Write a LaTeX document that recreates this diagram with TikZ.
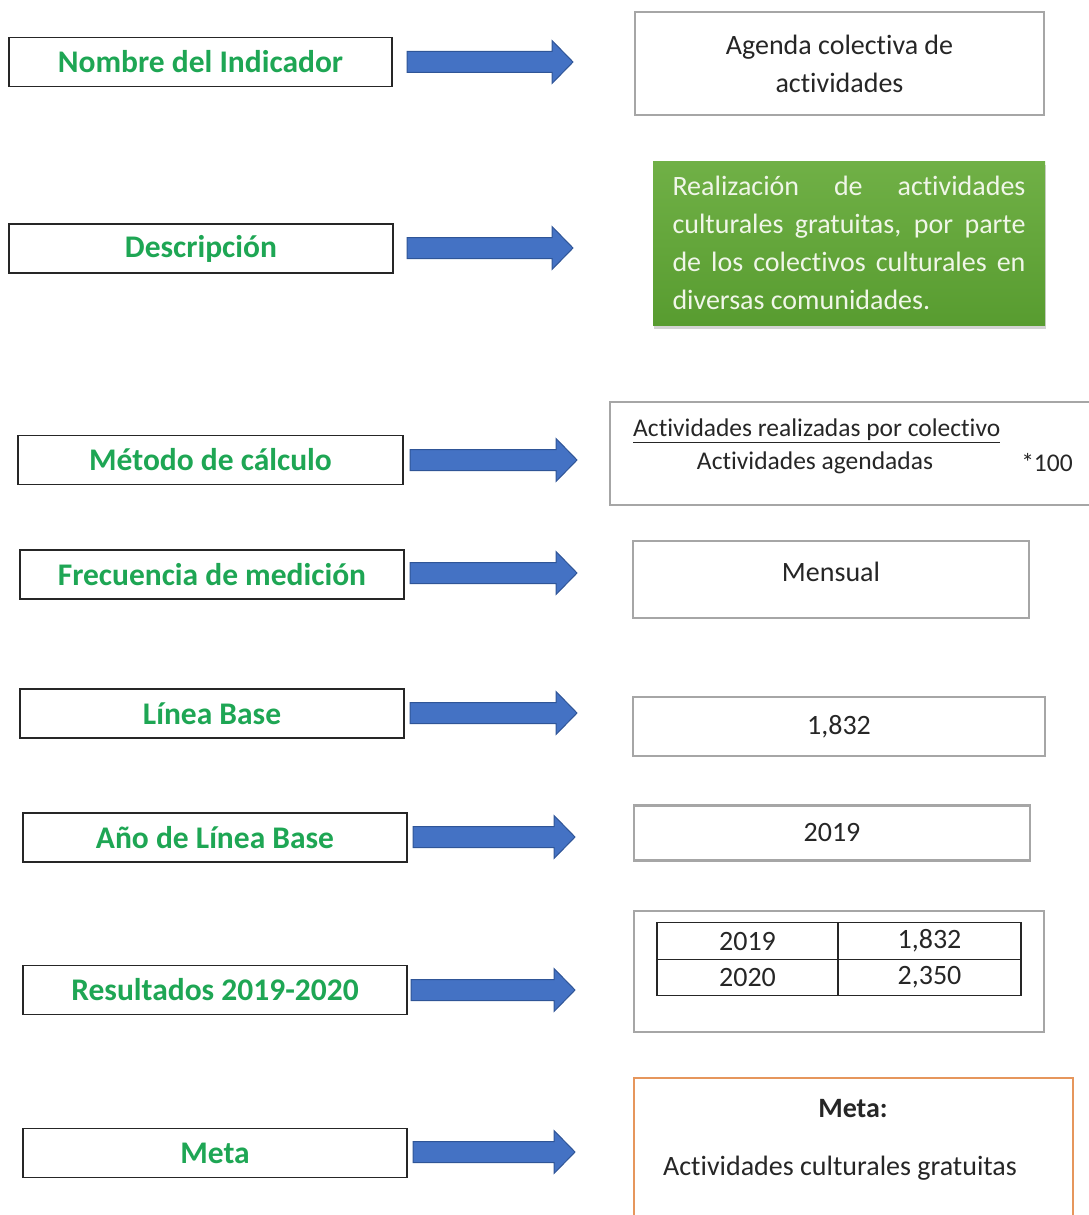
\documentclass[tikz,border=0pt]{standalone}
\usepackage{fontspec}
\setmainfont{Carlito}[Ligatures=NoCommon]
\usetikzlibrary{calc,shadows}
\definecolor{lblgreen}{RGB}{30,166,84}
\definecolor{arrblue}{RGB}{68,114,196}
\definecolor{arredge}{RGB}{47,85,151}
\definecolor{boxgray}{RGB}{166,166,166}
\definecolor{descgreen}{RGB}{112,176,70}
\definecolor{descgreendark}{RGB}{88,156,48}
\definecolor{desctext}{RGB}{240,246,232}
\definecolor{metaorange}{RGB}{230,150,92}
\tikzset{
  lbl/.style={draw=black!85, line width=1.3pt, minimum height=49pt, inner sep=0pt,
    font=\fontsize{31.5}{34}\selectfont\bfseries, text=lblgreen},
  valbox/.style={draw=boxgray, line width=2.4pt, inner sep=0pt, align=center,
    font=\fontsize{28}{38}\selectfont, text=black!85},
  valtxt/.style={inner sep=0pt, font=\fontsize{28}{38}\selectfont, text=black!85},
  cell/.style={draw=black!85, line width=1.2pt, minimum height=36.5pt, inner sep=0pt,
    font=\fontsize{28}{34}\selectfont, text=black!85},
  fatarrow/.style={fill=arrblue, draw=arredge, line width=1pt, line join=miter}
}
\newcommand{\fatarrow}[2]{%
  \draw[fatarrow] ($(#1)+(0,-10.5)$) -- ($(#2)+(-21,-10.5)$) -- ($(#2)+(-21,-21.5)$) -- (#2)
    -- ($(#2)+(-21,21.5)$) -- ($(#2)+(-21,10.5)$) -- ($(#1)+(0,10.5)$) -- cycle;}

\begin{document}
\begin{tikzpicture}[x=1pt, y=-1pt]
\useasboundingbox (0,0) rectangle (1089,1215);
\clip (0,0) rectangle (1089,1215);

\node[lbl, minimum width=383pt] (lnombre) at (200.5,62) {Nombre del Indicador};
\node[lbl, minimum width=384pt] (ldesc) at (201,248.5) {Descripción};
\node[lbl, minimum width=385pt] (lmetodo) at (210.5,460) {Método de cálculo};
\node[lbl, minimum width=384pt] (lfrec) at (212,574.5) {Frecuencia de medición};
\node[lbl, minimum width=384pt] (llinea) at (212,713.5) {Línea Base};
\node[lbl, minimum width=384pt] (lanio) at (215,837.5) {Año de Línea Base};
\node[lbl, minimum width=384pt] (lres) at (215,990) {Resultados 2019-2020};
\node[lbl, minimum width=384pt] (lmeta) at (215,1153) {Meta};

\node[valbox, minimum width=409pt, minimum height=103pt] (ragenda) at (839.5,63.5)
  {Agenda colectiva de\\actividades};
\node[top color=descgreen, bottom color=descgreendark,
  drop shadow={opacity=0.35, shadow xshift=1pt, shadow yshift=-4pt},
  minimum width=392pt, minimum height=164pt, text width=353pt, align=justify,
  inner sep=0pt, font=\fontsize{28}{38}\selectfont, text=desctext] (rdesc) at (849,243)
  {Realización de actividades\linebreak culturales gratuitas, por parte\linebreak
   de los colectivos culturales en\linebreak diversas comunidades.};
\node[valbox, minimum width=485pt, minimum height=103pt] (rmetodo) at (852.5,453.5) {};
\node[valtxt, anchor=west, font=\fontsize{25.5}{30}\selectfont] (fnum) at (633,431)
  {\underline{Actividades realizadas por colectivo}};
\node[valtxt, font=\fontsize{25.5}{30}\selectfont] (fden) at (815,463) {Actividades agendadas};
\node[valtxt, font=\fontsize{25.5}{30}\selectfont] (fmul) at (1047,463) {*100};
\node[valbox, minimum width=396pt, minimum height=77pt] (rmensual) at (831,579.5) {};
\node[valtxt] (tmensual) at (831,572) {Mensual};
\node[valbox, minimum width=412pt, minimum height=59pt] (rlinea) at (839,726.5) {1,832};
\node[valbox, minimum width=396pt, minimum height=55pt] (ranio) at (832,833) {2019};
\node[valbox, minimum width=410pt, minimum height=121pt] (rres) at (839,971.5) {};
\node[cell, minimum width=181pt] (c11) at (747.5,941) {2019};
\node[cell, minimum width=183pt] (c12) at (929.5,941) {1,832};
\node[cell, minimum width=181pt] (c21) at (747.5,977.5) {2020};
\node[cell, minimum width=183pt] (c22) at (929.5,977.5) {2,350};
\node[draw=metaorange, line width=2.2pt, minimum width=439pt, minimum height=146pt] (rmeta)
  at (853.5,1151) {};
\node[valtxt, font=\fontsize{28}{34}\selectfont\bfseries] (tmetahead) at (853,1109) {Meta:};
\node[valtxt] (tmeta) at (840,1168) {Actividades culturales gratuitas};

\coordinate (t1) at (407,62);   \coordinate (h1) at (573,62);
\coordinate (t2) at (407,248);  \coordinate (h2) at (573,248);
\coordinate (t3) at (410,460);  \coordinate (h3) at (577,460);
\coordinate (t4) at (410,573);  \coordinate (h4) at (577,573);
\coordinate (t5) at (410,713);  \coordinate (h5) at (577,713);
\coordinate (t6) at (413,837);  \coordinate (h6) at (575,837);
\coordinate (t7) at (411,990);  \coordinate (h7) at (575,990);
\coordinate (t8) at (413,1152); \coordinate (h8) at (575,1152);

\fatarrow{t1}{h1}
\fatarrow{t2}{h2}
\fatarrow{t3}{h3}
\fatarrow{t4}{h4}
\fatarrow{t5}{h5}
\fatarrow{t6}{h6}
\fatarrow{t7}{h7}
\fatarrow{t8}{h8}
\end{tikzpicture}
\end{document}
